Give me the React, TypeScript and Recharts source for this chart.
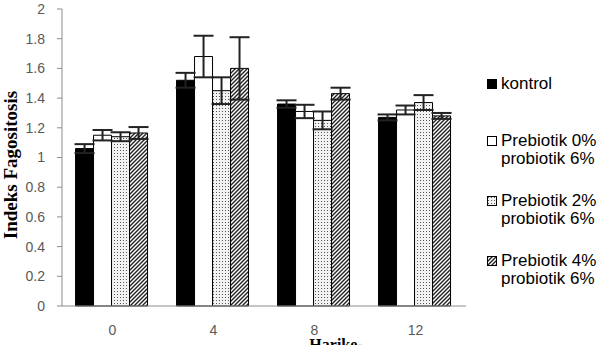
import React from 'react';
import { BarChart, Bar, XAxis, YAxis, ErrorBar } from 'recharts';

// Hari ke- (day of observation)
const days = ['0', '4', '8', '12'];

// phagocytic index per group
const kontrol = [1.06, 1.52, 1.36, 1.27];
const kontrolErr = [0.03, 0.05, 0.025, 0.02];
const pre0 = [1.15, 1.68, 1.31, 1.32];
const pre0Err = [0.035, 0.14, 0.045, 0.03];
const pre2 = [1.14, 1.45, 1.25, 1.37];
const pre2Err = [0.03, 0.09, 0.06, 0.05];
const pre4 = [1.165, 1.6, 1.43, 1.28];
const pre4Err = [0.04, 0.21, 0.04, 0.02];

const yTicks = [0, 0.2, 0.4, 0.6, 0.8, 1, 1.2, 1.4, 1.6, 1.8, 2];

const legendLines = [
    ['kontrol'],
    ['Prebiotik 0%', 'probiotik 6%'],
    ['Prebiotik 2%', 'probiotik 6%'],
    ['Prebiotik 4%', 'probiotik 6%'],
];

const data = days.map((d, i) => ({
    day: d,
    kontrol: kontrol[i],
    kontrolErr: kontrolErr[i],
    pre0: pre0[i],
    pre0Err: pre0Err[i],
    pre2: pre2[i],
    pre2Err: pre2Err[i],
    pre4: pre4[i],
    pre4Err: pre4Err[i],
}));

const fills = ['#000000', '#ffffff', 'url(#dots)', 'url(#hatch)'];
const series = ['kontrol', 'pre0', 'pre2', 'pre4'];

const sans = '"Liberation Sans", Arial, sans-serif';
const serif = '"Liberation Serif", "Times New Roman", serif';

const Patterns = () => (
    <svg width={0} height={0} style={{ position: 'absolute' }}>
        <defs>
            <pattern id="dots" width={3} height={3} patternUnits="userSpaceOnUse">
                <rect width={3} height={3} fill="#f2f2f2" />
                <rect x={0} y={0} width={1} height={1} fill="#555" />
            </pattern>
            <pattern id="hatch" width={4} height={4} patternUnits="userSpaceOnUse">
                <rect width={4} height={4} fill="#ffffff" />
                <path d="M-1,1 l2,-2 M0,4 l4,-4 M3,5 l2,-2" stroke="#222" strokeWidth={1.4} />
            </pattern>
        </defs>
    </svg>
);

const App: React.FC = () => {
    return (
        <div style={{ position: 'absolute', left: 0, top: 0, width: 601, height: 345, background: '#fff' }}>
            <Patterns />
            <BarChart
                width={601}
                height={345}
                data={data}
                margin={{ top: 9, right: 135, left: 0, bottom: 0 }}
                barCategoryGap="13.4%"
                barGap={0}
            >
                <XAxis
                    dataKey="day"
                    height={39}
                    stroke="#8c8c8c"
                    tickLine={false}
                    tickSize={0}
                    tickMargin={19}
                    tick={{ fontSize: 14, fill: '#595959', fontFamily: sans }}
                    label={{
                        content: () => (
                            <text x={336} y={350} textAnchor="middle" fontFamily={serif} fontWeight="bold" fontSize={16} fill="#000">
                                Harike-
                            </text>
                        ),
                    }}
                />
                <YAxis
                    width={62}
                    domain={[0, 2]}
                    ticks={yTicks}
                    stroke="#8c8c8c"
                    tickSize={5}
                    tickMargin={12}
                    tick={{ fontSize: 14, fill: '#595959', fontFamily: sans }}
                    label={{
                        content: () => (
                            <text
                                x={17}
                                y={165}
                                transform="rotate(-90 17 165)"
                                textAnchor="middle"
                                fontFamily={serif}
                                fontWeight="bold"
                                fontSize={19}
                                fill="#000"
                            >
                                Indeks Fagositosis
                            </text>
                        ),
                    }}
                />
                {series.map((key, i) => (
                    <Bar key={key} dataKey={key} fill={fills[i]} stroke="#000" strokeWidth={1} isAnimationActive={false}>
                        <ErrorBar dataKey={key + 'Err'} width={10} stroke="#222" strokeWidth={2} direction="y" />
                    </Bar>
                ))}
            </BarChart>
            {/* legend: entries spaced like the Excel original */}
            <div style={{ position: 'absolute', left: 486, top: 75, fontFamily: sans, fontSize: 17, color: '#000', lineHeight: '18px' }}>
                {legendLines.map((lines, i) => (
                    <div key={i} style={{ position: 'relative', paddingLeft: 15, marginBottom: i === 0 ? 39 : 24 }}>
                        <div
                            style={{
                                position: 'absolute',
                                left: 1,
                                top: 4,
                                width: 8,
                                height: 8,
                                border: '1px solid #000',
                                background: i === 0 ? '#000' : i === 1 ? '#fff' : undefined,
                            }}
                        >
                            {i > 1 && (
                                <svg width={8} height={8} style={{ display: 'block' }}>
                                    <rect width={8} height={8} fill={fills[i]} />
                                </svg>
                            )}
                        </div>
                        {lines.map((t, j) => (
                            <div key={j} style={{ whiteSpace: 'nowrap' }}>{t}</div>
                        ))}
                    </div>
                ))}
            </div>
        </div>
    );
};

export default App;
